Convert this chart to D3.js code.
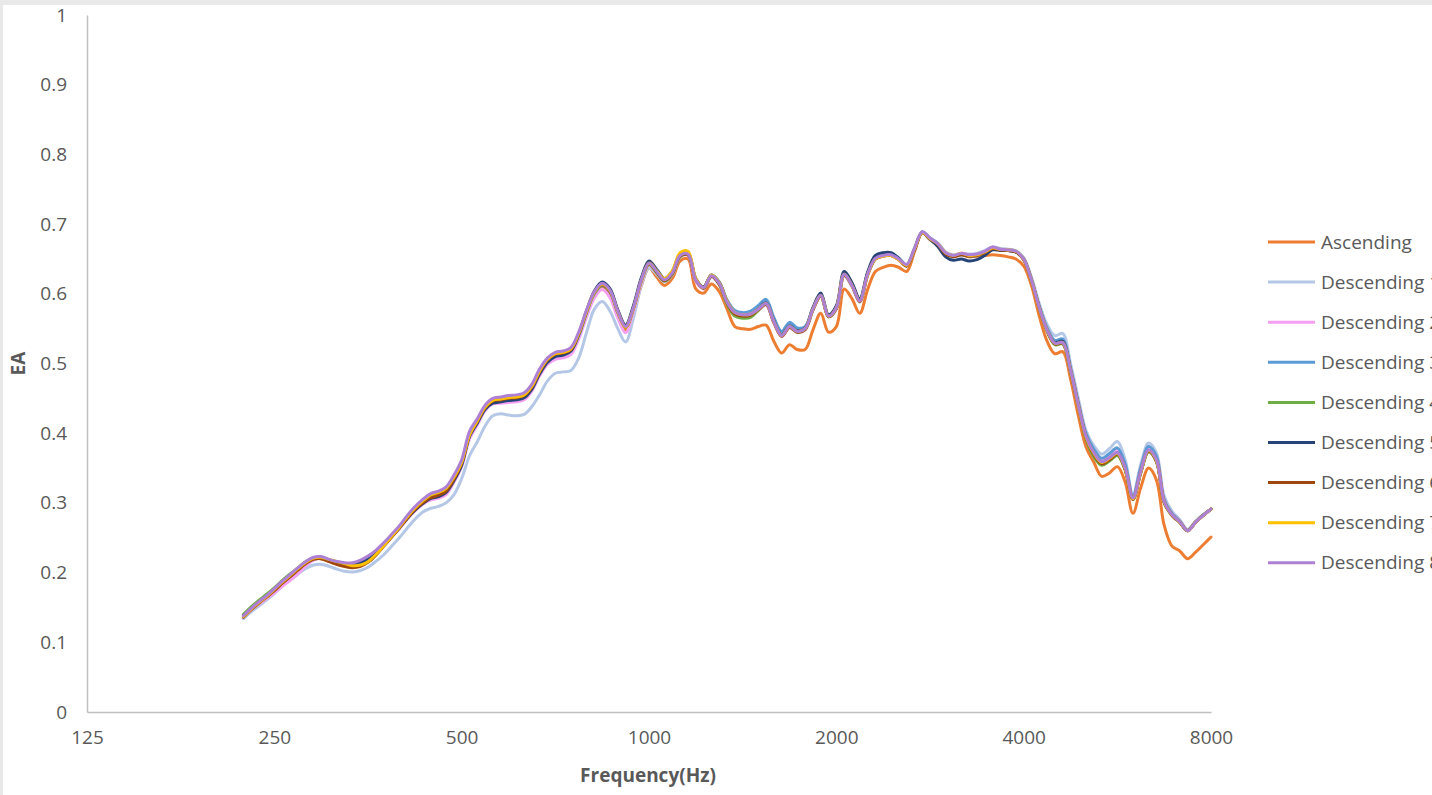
<!DOCTYPE html>
<html>
<head>
<meta charset="utf-8">
<script src="https://cdn.jsdelivr.net/npm/d3@7"></script>
<style>
  html, body { margin: 0; padding: 0; background: #e9e9e9; }
  svg { display: block; }
</style>
</head>
<body>
<div id="container"></div>
<script>
// 1/24-octave centre frequencies (Hz)
const freqs = [223, 229, 236, 243,
  250, 257, 265, 273, 281, 289, 297, 306, 315, 324, 334, 344, 354, 364, 375, 386, 397, 408, 420, 433, 445, 459, 472, 486,
  500, 515, 530, 545, 561, 578, 595, 612, 630, 648, 667, 687, 707, 728, 749, 771, 794, 817, 841, 866, 891, 917, 944, 972,
  1000, 1029, 1059, 1090, 1122, 1155, 1189, 1224, 1260, 1297, 1335, 1374, 1414, 1456, 1498, 1542, 1587, 1634, 1682, 1731, 1782, 1834, 1888, 1943,
  2000, 2059, 2119, 2181, 2245, 2311, 2378, 2448, 2520, 2594, 2670, 2748, 2828, 2911, 2997, 3084, 3175, 3268, 3364, 3462, 3564, 3668, 3776, 3886,
  4000, 4117, 4238, 4362, 4490, 4622, 4757, 4897, 5040, 5188, 5339, 5496, 5657, 5823, 5993, 6169, 6350, 6536, 6727, 6925, 7127, 7336, 7551, 7773,
  8000];

const xTicks = [125, 250, 500, 1000, 2000, 4000, 8000];
const yTicks = [0, 0.1, 0.2, 0.3, 0.4, 0.5, 0.6, 0.7, 0.8, 0.9, 1];

const ascending = [
  .135,.145,.155,.164,.174,.184,.194,.204,.213,.219,
  .220,.216,.212,.209,.209,.213,.220,.229,.240,.252,
  .264,.278,.291,.302,.309,.314,.320,.337,.359,.399,
  .418,.437,.446,.448,.450,.451,.455,.467,.489,.505,
  .513,.515,.520,.541,.573,.600,.611,.600,.570,.548,
  .573,.612,.637,.624,.612,.622,.647,.650,.607,.601,
  .614,.603,.578,.553,.550,.549,.553,.555,.532,.515,
  .527,.520,.520,.548,.572,.545,.553,.607,.593,.572,
  .606,.632,.638,.641,.638,.632,.660,.687,.678,.670,
  .658,.655,.656,.653,.654,.655,.656,.655,.653,.650,
  .640,.612,.568,.532,.514,.517,.478,.425,.380,.358,
  .338,.343,.352,.330,.285,.322,.350,.333,.268,.238,
  .231,.220,.229,.240,.251];

const desc1 = [
  .134,.143,.152,.161,.170,.180,.189,.198,.206,.211,
  .212,.209,.205,.202,.201,.203,.208,.216,.226,.238,
  .250,.263,.276,.287,.292,.295,.300,.312,.335,.368,
  .388,.410,.425,.428,.426,.425,.427,.438,.455,.475,
  .486,.488,.490,.508,.545,.578,.589,.575,.550,.531,
  .565,.612,.637,.628,.617,.627,.653,.656,.620,.608,
  .626,.616,.590,.575,.572,.573,.582,.590,.563,.545,
  .556,.548,.552,.578,.597,.568,.578,.625,.610,.588,
  .626,.650,.655,.656,.650,.641,.664,.688,.680,.673,
  .660,.656,.658,.657,.658,.662,.667,.665,.664,.662,
  .652,.624,.586,.556,.540,.543,.500,.450,.403,.382,
  .370,.378,.388,.362,.312,.355,.386,.372,.310,.288,
  .276,.262,.273,.283,.291];

const desc2 = [
  .137,.146,.155,.163,.171,.180,.189,.199,.210,.218,
  .221,.218,.215,.213,.213,.216,.222,.230,.240,.251,
  .263,.276,.288,.298,.304,.307,.312,.330,.352,.392,
  .412,.432,.442,.443,.444,.445,.448,.460,.482,.499,
  .506,.508,.513,.535,.567,.594,.606,.594,.565,.544,
  .575,.615,.641,.630,.618,.628,.653,.655,.618,.607,
  .624,.613,.586,.571,.568,.569,.576,.584,.558,.539,
  .551,.545,.548,.576,.596,.567,.578,.626,.611,.589,
  .626,.650,.654,.655,.649,.640,.663,.688,.679,.671,
  .658,.654,.657,.655,.656,.660,.666,.663,.662,.660,
  .649,.619,.580,.549,.532,.534,.494,.444,.398,.375,
  .362,.370,.377,.354,.309,.350,.380,.366,.305,.285,
  .274,.261,.272,.282,.291];

const desc3 = [
  .139,.148,.157,.166,.176,.186,.196,.206,.215,.220,
  .221,.217,.213,.211,.211,.215,.221,.229,.240,.252,
  .264,.277,.290,.300,.307,.311,.317,.334,.356,.396,
  .415,.434,.444,.446,.448,.449,.452,.464,.486,.503,
  .511,.513,.518,.540,.573,.600,.612,.602,.573,.552,
  .580,.620,.644,.633,.621,.631,.656,.658,.621,.610,
  .627,.617,.591,.576,.573,.575,.583,.592,.566,.546,
  .559,.551,.553,.579,.599,.569,.581,.629,.614,.591,
  .629,.652,.656,.657,.651,.642,.665,.689,.680,.672,
  .658,.654,.656,.654,.655,.660,.666,.664,.663,.661,
  .650,.621,.582,.551,.533,.535,.494,.444,.399,.377,
  .364,.371,.379,.356,.310,.351,.381,.367,.305,.285,
  .274,.261,.273,.283,.291];

const desc4 = [
  .140,.150,.160,.169,.178,.188,.198,.207,.216,.221,
  .222,.218,.214,.212,.212,.216,.223,.231,.242,.254,
  .266,.279,.292,.302,.309,.313,.319,.336,.358,.398,
  .417,.436,.446,.448,.450,.451,.454,.466,.488,.505,
  .513,.515,.520,.542,.574,.601,.613,.603,.574,.552,
  .579,.618,.642,.630,.618,.628,.653,.656,.620,.608,
  .625,.613,.585,.568,.565,.566,.576,.585,.560,.540,
  .552,.545,.549,.577,.597,.567,.579,.627,.612,.590,
  .627,.650,.655,.656,.650,.641,.664,.688,.679,.671,
  .658,.654,.657,.655,.656,.660,.666,.663,.662,.660,
  .649,.619,.579,.546,.527,.528,.488,.438,.391,.366,
  .354,.360,.368,.347,.305,.343,.373,.359,.300,.282,
  .272,.260,.272,.282,.291];

const desc5 = [
  .138,.147,.157,.166,.175,.185,.195,.205,.214,.220,
  .221,.217,.213,.210,.210,.214,.220,.229,.240,.252,
  .264,.277,.289,.299,.306,.309,.315,.332,.354,.396,
  .415,.434,.443,.445,.447,.448,.451,.463,.485,.502,
  .510,.512,.518,.542,.576,.604,.617,.607,.577,.555,
  .583,.623,.647,.635,.622,.632,.657,.659,.622,.610,
  .627,.616,.589,.572,.569,.570,.578,.587,.561,.541,
  .554,.547,.551,.580,.601,.570,.583,.632,.616,.593,
  .631,.655,.659,.659,.651,.640,.663,.688,.678,.668,
  .653,.648,.650,.647,.649,.655,.663,.662,.662,.660,
  .650,.620,.581,.548,.530,.532,.491,.441,.395,.371,
  .358,.364,.372,.349,.306,.344,.375,.361,.302,.283,
  .273,.260,.272,.282,.291];

const desc6 = [
  .136,.146,.156,.165,.174,.184,.194,.204,.213,.219,
  .220,.216,.212,.209,.207,.209,.215,.225,.238,.251,
  .264,.277,.290,.300,.307,.311,.317,.334,.357,.398,
  .417,.436,.446,.448,.450,.451,.454,.466,.488,.505,
  .513,.515,.520,.542,.575,.602,.613,.603,.574,.552,
  .579,.619,.643,.631,.619,.629,.654,.656,.620,.608,
  .625,.614,.587,.571,.568,.569,.577,.585,.559,.539,
  .552,.545,.549,.577,.597,.567,.579,.627,.612,.589,
  .627,.650,.654,.655,.649,.640,.663,.688,.679,.671,
  .657,.653,.656,.654,.655,.659,.665,.663,.662,.660,
  .649,.619,.579,.547,.528,.529,.489,.439,.393,.369,
  .356,.362,.370,.348,.305,.344,.374,.360,.301,.282,
  .272,.260,.272,.282,.291];

const desc7 = [
  .137,.147,.157,.166,.176,.186,.196,.206,.215,.221,
  .222,.219,.216,.213,.210,.211,.216,.226,.239,.252,
  .265,.279,.292,.303,.311,.315,.321,.337,.358,.398,
  .418,.437,.447,.449,.451,.452,.455,.467,.489,.506,
  .514,.516,.521,.543,.575,.602,.614,.604,.574,.552,
  .579,.619,.644,.633,.622,.633,.659,.661,.622,.609,
  .627,.616,.589,.573,.570,.571,.578,.586,.560,.540,
  .553,.546,.550,.578,.598,.568,.580,.628,.612,.590,
  .627,.650,.654,.655,.649,.641,.664,.688,.679,.672,
  .659,.655,.658,.655,.656,.660,.666,.664,.663,.661,
  .650,.620,.580,.548,.529,.530,.490,.440,.394,.371,
  .358,.364,.371,.349,.306,.344,.375,.361,.302,.283,
  .273,.260,.272,.282,.291];

const desc8 = [
  .138,.148,.158,.167,.177,.187,.197,.207,.216,.222,
  .223,.219,.216,.214,.214,.218,.224,.232,.243,.255,
  .267,.281,.294,.305,.313,.317,.323,.340,.362,.403,
  .421,.440,.450,.452,.454,.455,.458,.470,.492,.508,
  .516,.518,.523,.545,.577,.603,.615,.605,.575,.553,
  .580,.620,.644,.632,.620,.630,.655,.657,.620,.609,
  .626,.615,.588,.573,.570,.571,.578,.586,.560,.540,
  .553,.546,.550,.578,.598,.568,.580,.628,.612,.590,
  .628,.651,.655,.656,.650,.642,.665,.689,.680,.672,
  .659,.655,.658,.656,.657,.661,.667,.664,.663,.661,
  .650,.620,.580,.548,.529,.530,.490,.440,.395,.372,
  .359,.365,.372,.350,.307,.345,.376,.362,.302,.283,
  .273,.260,.272,.282,.291];

const seriesNames = ['Ascending', 'Descending 1', 'Descending 2', 'Descending 3', 'Descending 4',
  'Descending 5', 'Descending 6', 'Descending 7', 'Descending 8'];
const seriesValues = [ascending, desc1, desc2, desc3, desc4, desc5, desc6, desc7, desc8];
const colors = ['#ED7D31', '#B4C7E7', '#F7A0F3', '#5B9BD5', '#70AD47', '#264478', '#9E480E', '#FFC000', '#AD80D6'];

const width = 1432;
const height = 795;
const plot = { left: 87, right: 1211, top: 15, bottom: 712 };
const textColor = '#595959';
const font = '"Open Sans", "Noto Sans", sans-serif';

const svg = d3.select('#container')
  .append('svg')
  .attr('width', width)
  .attr('height', height);

// page frame
svg.append('rect')
  .attr('x', 3).attr('y', 5)
  .attr('width', width - 3).attr('height', height - 5)
  .attr('fill', '#fff');

const xScale = d3.scaleLog().base(2).domain([125, 8000]).range([plot.left, plot.right]);
const yScale = d3.scaleLinear().domain([0, 1]).range([plot.bottom, plot.top]);

// x axis
const xAxis = svg.append('g')
  .attr('transform', `translate(0,${plot.bottom})`)
  .call(d3.axisBottom(xScale).tickValues(xTicks).tickFormat(d3.format('d')).tickSize(0).tickPadding(19));
xAxis.select('.domain').attr('stroke', '#c0c0c0').attr('stroke-width', 1.5);
xAxis.selectAll('text').attr('fill', textColor).style('font', `19px ${font}`);

// y axis
const yAxis = svg.append('g')
  .attr('transform', `translate(${plot.left},0)`)
  .call(d3.axisLeft(yScale).tickValues(yTicks).tickFormat((d) => (d === 0 || d === 1 ? d3.format('d')(d) : d3.format('.1f')(d))).tickSize(0).tickPadding(20));
yAxis.select('.domain').attr('stroke', '#c0c0c0').attr('stroke-width', 1.5);
yAxis.selectAll('text').attr('fill', textColor).style('font', `19px ${font}`);

// axis titles
svg.append('text')
  .attr('x', 648)
  .attr('y', 782)
  .attr('text-anchor', 'middle')
  .attr('fill', textColor)
  .style('font', `bold 19px ${font}`)
  .text('Frequency(Hz)');

svg.append('text')
  .attr('transform', `translate(25,${(plot.top + plot.bottom) / 2}) rotate(-90)`)
  .attr('text-anchor', 'middle')
  .attr('fill', textColor)
  .style('font', `bold 19px ${font}`)
  .text('EA');

// lines
const line = d3.line()
  .x((d, i) => xScale(freqs[i]))
  .y((d) => yScale(d))
  .curve(d3.curveCatmullRom.alpha(0.5));

svg.append('g')
  .selectAll('path')
  .data(seriesValues)
  .join('path')
  .attr('fill', 'none')
  .attr('stroke', (d, i) => colors[i])
  .attr('stroke-width', 3)
  .attr('stroke-linejoin', 'round')
  .attr('stroke-linecap', 'round')
  .attr('d', line);

// legend
const legend = svg.append('g')
  .selectAll('g')
  .data(seriesNames)
  .join('g')
  .attr('transform', (d, i) => `translate(1268,${242 + i * 40.1})`);

legend.append('line')
  .attr('x1', 0).attr('x2', 47)
  .attr('stroke', (d, i) => colors[i])
  .attr('stroke-width', 3);

legend.append('text')
  .attr('x', 53)
  .attr('dy', '0.35em')
  .attr('fill', textColor)
  .style('font', `19px ${font}`)
  .text((d) => d);
</script>
</body>
</html>
